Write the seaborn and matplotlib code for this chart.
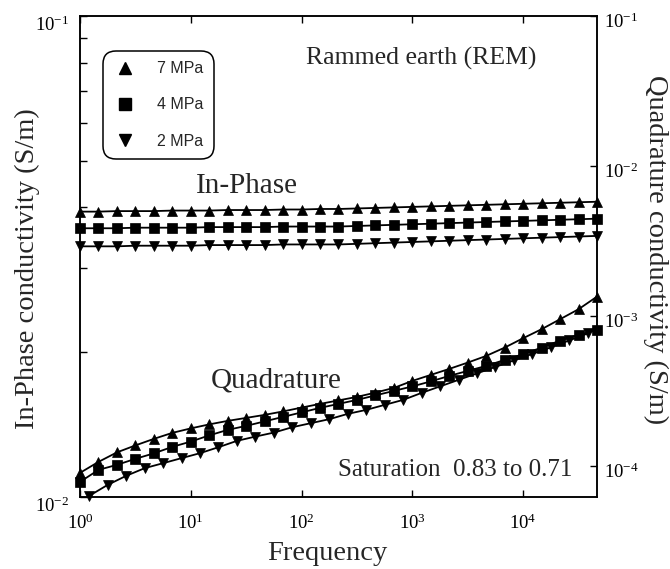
import numpy as np
import pandas as pd
import matplotlib
matplotlib.use("Agg")
import matplotlib.pyplot as plt
import seaborn as sns
from matplotlib.lines import Line2D
from matplotlib.ticker import LogLocator, NullLocator, NullFormatter
from matplotlib.transforms import ScaledTranslation

# ---------------- data ----------------
freq = [1, 1.468, 2.154, 3.162, 4.642, 6.813, 10, 14.68, 21.54, 31.62, 46.42, 68.13,
        100, 146.8, 215.4, 316.2, 464.2, 681.3, 1000, 1468, 2154, 3162, 4642, 6813,
        10000, 14678, 21544, 31623, 46416]
freq_q2 = [1.2115, 1.7783, 2.6102, 3.8312, 5.6234, 8.254, 12.115, 17.783, 26.102, 38.312,
           56.234, 82.54, 121.15, 177.83, 261.02, 383.12, 562.34, 825.4, 1211.5, 1778.3,
           2610.2, 3831.2, 5623.4, 8254.0, 12115, 17783, 26102, 38312]

inphase_7 = [0.0392, 0.0392, 0.0393, 0.0393, 0.0393, 0.0394, 0.0394, 0.0394, 0.0395, 0.0395,
             0.0395, 0.0396, 0.0396, 0.0397, 0.0397, 0.0398, 0.0399, 0.0400, 0.0401, 0.0402,
             0.0403, 0.0404, 0.0405, 0.0406, 0.0407, 0.0408, 0.0409, 0.0410, 0.0411]
inphase_4 = [0.0362, 0.0362, 0.0362, 0.0363, 0.0363, 0.0363, 0.0363, 0.0364, 0.0364, 0.0364,
             0.0364, 0.0365, 0.0365, 0.0365, 0.0365, 0.0366, 0.0367, 0.0368, 0.0369, 0.0370,
             0.0371, 0.0372, 0.0373, 0.0374, 0.0375, 0.0376, 0.0377, 0.0378, 0.0379]
inphase_2 = [0.0332, 0.0332, 0.0332, 0.0333, 0.0333, 0.0333, 0.0333, 0.0334, 0.0334, 0.0334,
             0.0334, 0.0335, 0.0335, 0.0335, 0.0335, 0.0336, 0.0337, 0.0338, 0.0339, 0.0340,
             0.0341, 0.0342, 0.0343, 0.0344, 0.0345, 0.0346, 0.0347, 0.0348, 0.0349]

quad_7 = [8.98e-5, 1.063e-4, 1.230e-4, 1.369e-4, 1.514e-4, 1.660e-4, 1.778e-4, 1.891e-4,
          1.995e-4, 2.089e-4, 2.188e-4, 2.308e-4, 2.447e-4, 2.590e-4, 2.733e-4, 2.884e-4,
          3.081e-4, 3.311e-4, 3.687e-4, 4.043e-4, 4.433e-4, 4.884e-4, 5.412e-4, 6.147e-4,
          7.101e-4, 8.154e-4, 9.506e-4, 1.108e-3, 1.345e-3]
quad_4 = [7.82e-5, 9.40e-5, 1.016e-4, 1.114e-4, 1.212e-4, 1.339e-4, 1.452e-4, 1.597e-4,
          1.738e-4, 1.848e-4, 1.980e-4, 2.122e-4, 2.273e-4, 2.436e-4, 2.590e-4, 2.754e-4,
          2.951e-4, 3.162e-4, 3.388e-4, 3.659e-4, 3.981e-4, 4.299e-4, 4.642e-4, 5.090e-4,
          5.555e-4, 6.147e-4, 6.845e-4, 7.470e-4, 8.067e-4]
quad_2 = [6.31e-5, 7.47e-5, 8.58e-5, 9.65e-5, 1.042e-4, 1.126e-4, 1.215e-4, 1.332e-4,
          1.468e-4, 1.568e-4, 1.667e-4, 1.811e-4, 1.926e-4, 2.048e-4, 2.222e-4, 2.362e-4,
          2.551e-4, 2.754e-4, 3.066e-4, 3.388e-4, 3.745e-4, 4.137e-4, 4.571e-4, 5.051e-4,
          5.580e-4, 6.166e-4, 6.866e-4, 7.644e-4]

labels = ["7 MPa", "4 MPa", "2 MPa"]
markers = ["^", "s", "v"]

# ---------------- style ----------------
sns.set_style("white")
plt.rcParams["font.family"] = ["Liberation Serif", "DejaVu Serif"]
plt.rcParams["mathtext.fontset"] = "custom"
plt.rcParams["mathtext.rm"] = "Liberation Sans"
plt.rcParams["mathtext.it"] = "Liberation Sans:italic"
plt.rcParams["mathtext.bf"] = "Liberation Sans:bold"
plt.rcParams["axes.unicode_minus"] = False

W, H = 670, 569
fig = plt.figure(figsize=(W / 100, H / 100), dpi=100)
L, R, T, B = 80, 597, 16, 497
ax = fig.add_axes([L / W, 1 - B / H, (R - L) / W, (B - T) / H])
ax2 = ax.twinx()

line_kw = dict(color="black", linewidth=1.3, markersize=7, markeredgecolor="black",
               markeredgewidth=0.5, clip_on=False)

for vals, m in zip([inphase_7, inphase_4, inphase_2], markers):
    sns.lineplot(x=freq, y=vals, ax=ax, marker=m, **line_kw)

for xs, vals, m in zip([freq, freq, freq_q2], [quad_7, quad_4, quad_2], markers):
    sns.lineplot(x=xs, y=vals, ax=ax2, marker=m, **line_kw)

ax.set_xscale("log")
ax.set_yscale("log")
ax2.set_yscale("log")
ax.set_xlim(1, 46416)
ax.set_ylim(0.01, 0.1)
ax2.set_ylim(6.2e-5, 0.1)

ax.xaxis.set_major_locator(LogLocator(base=10, numticks=10))
ax.xaxis.set_minor_locator(NullLocator())
ax.yaxis.set_major_locator(LogLocator(base=10, numticks=10))
ax.yaxis.set_minor_locator(LogLocator(base=10, subs=np.arange(2, 10), numticks=20))
ax.yaxis.set_minor_formatter(NullFormatter())
ax2.yaxis.set_major_locator(LogLocator(base=10, numticks=10))
ax2.yaxis.set_minor_locator(NullLocator())
ax2.yaxis.set_minor_formatter(NullFormatter())

for a in (ax, ax2):
    for s in a.spines.values():
        s.set_linewidth(1.1)
        s.set_color("black")

TL = 13.5
ax.tick_params(axis="x", which="both", direction="in", top=True, bottom=True,
               length=5, width=1.0, labelsize=TL, pad=12, colors="black")
ax.tick_params(axis="y", which="both", direction="in", left=True, right=False,
               length=5, width=1.0, labelsize=TL, pad=8, colors="black")
ax2.tick_params(axis="y", which="both", direction="in", right=True, left=False,
                length=5, width=1.0, labelsize=TL, pad=5, colors="black")
for lbl in ax.get_yticklabels():
    lbl.set_va("top")
shift = ScaledTranslation(0, -4 / 100, fig.dpi_scale_trans)
for t in ax2.yaxis.get_major_ticks():
    t.label2.set_transform(t.label2.get_transform() + shift)

ax.set_xlabel("Frequency", fontsize=20.5)
ax.xaxis.label.set_va("center")
ax.xaxis.set_label_coords((327 - L) / (R - L), (B - 553) / (B - T))
ax.set_ylabel("In-Phase conductivity (S/m)", fontsize=20.5)
ax.yaxis.label.set_va("center")
ax.yaxis.set_label_coords((27 - L) / (R - L), (B - 269) / (B - T))
ax2.set_ylabel("Quadrature conductivity (S/m)", fontsize=20.5, rotation=270)
ax2.yaxis.label.set_va("center")
ax2.yaxis.set_label_coords((656 - L) / (R - L), (B - 250) / (B - T))

def axfrac(px, py):
    return (px - L) / (R - L), (B - py) / (B - T)

ax.text(*axfrac(421, 58), "Rammed earth (REM)", transform=ax.transAxes,
        ha="center", va="center", fontsize=18.5)
ax.text(*axfrac(247, 186), "In-Phase", transform=ax.transAxes,
        ha="center", va="center", fontsize=21)
ax.text(*axfrac(276, 381), "Quadrature", transform=ax.transAxes,
        ha="center", va="center", fontsize=21)
ax.text(*axfrac(455, 470), "Saturation  0.83 to 0.71", transform=ax.transAxes,
        ha="center", va="center", fontsize=18)

handles = [Line2D([], [], linestyle="none", marker=m, color="black", markersize=9)
           for m in markers]
leg = ax2.legend(handles, labels, loc="upper left",
                 bbox_to_anchor=axfrac(103, 51), borderaxespad=0,
                 prop={"family": "Liberation Sans", "size": 11.5},
                 frameon=True, fancybox=True, borderpad=0.65, handlelength=1.4,
                 handletextpad=1.35, labelspacing=1.32)
frame = leg.get_frame()
frame.set_edgecolor("black")
frame.set_linewidth(1.1)
frame.set_boxstyle("round", pad=0, rounding_size=0.8)
frame.set_alpha(1)

fig.savefig("out.png", dpi=100)
